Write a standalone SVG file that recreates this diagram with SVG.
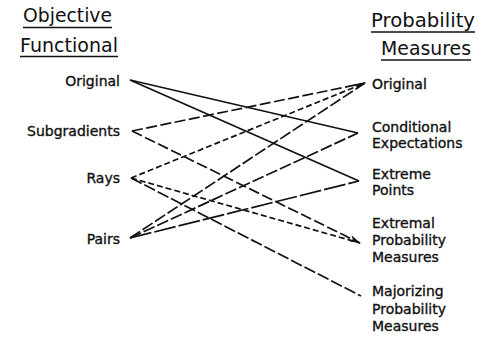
<svg xmlns="http://www.w3.org/2000/svg" width="478" height="337" viewBox="0 0 478 337">
<style>
text{font-family:"DejaVu Sans","Liberation Sans",sans-serif;fill:#111;}
.lbl{font-size:14px;stroke:#111;stroke-width:0.35;}
.hd{font-size:19.5px;}
.ul{stroke:#111;stroke-width:1.5;}
.c{fill:none;stroke:#111;stroke-width:1.7;}
.dl{stroke-dasharray:11 3.5;}
.ds{stroke-dasharray:6 3;}
.dm{stroke-dasharray:12 3;}
.dx{stroke-dasharray:22 3;}
</style>
<defs>
<marker id="arr" viewBox="0 0 12 8" refX="11" refY="4" markerWidth="12" markerHeight="8" markerUnits="userSpaceOnUse" orient="auto">
<path d="M0,0.8 L12,4 L0,7.2 L3,4 Z" fill="#111"/>
</marker>
</defs>
<g id="header-left">
<text class="hd" x="23" y="22" textLength="89" lengthAdjust="spacingAndGlyphs">Objective</text>
<line class="ul" x1="23" y1="27.5" x2="112" y2="27.5"/>
<text class="hd" x="20" y="52" textLength="98" lengthAdjust="spacingAndGlyphs">Functional</text>
<line class="ul" x1="20" y1="56.5" x2="118" y2="56.5"/>
</g>
<g id="header-right">
<text class="hd" x="371" y="27" textLength="104" lengthAdjust="spacingAndGlyphs">Probability</text>
<line class="ul" x1="371" y1="32" x2="475" y2="32"/>
<text class="hd" x="381" y="55" textLength="90" lengthAdjust="spacingAndGlyphs">Measures</text>
<line class="ul" x1="381" y1="60" x2="471" y2="60"/>
</g>
<g id="of-original"><text class="lbl" x="120" y="86" text-anchor="end">Original</text></g>
<g id="of-subgradients"><text class="lbl" x="120" y="136" text-anchor="end">Subgradients</text></g>
<g id="of-rays"><text class="lbl" x="120" y="183" text-anchor="end">Rays</text></g>
<g id="of-pairs"><text class="lbl" x="120" y="244" text-anchor="end">Pairs</text></g>
<g id="pm-original"><text class="lbl" x="372" y="89">Original</text></g>
<g id="pm-conditional"><text class="lbl" x="372" y="131.5">Conditional</text><text class="lbl" x="372" y="147.5">Expectations</text></g>
<g id="pm-extreme"><text class="lbl" x="372" y="178.5">Extreme</text><text class="lbl" x="372" y="194.5">Points</text></g>
<g id="pm-extremal"><text class="lbl" x="372" y="228">Extremal</text><text class="lbl" x="372" y="245">Probability</text><text class="lbl" x="372" y="262">Measures</text></g>
<g id="pm-majorizing"><text class="lbl" x="372" y="296">Majorizing</text><text class="lbl" x="372" y="313.5">Probability</text><text class="lbl" x="372" y="331">Measures</text></g>
<g id="connectors">
<path class="c" d="M130,80 L358,133"/>
<path class="c" d="M130,80 L359,181"/>
<path class="c dl" d="M132,131 L365,83"/>
<path class="c dl" d="M132,131 L360,243" marker-end="url(#arr)"/>
<path class="c ds" d="M131,178 L365,83" marker-end="url(#arr)"/>
<path class="c ds" d="M131,178 L360,243"/>
<path class="c dm" d="M131,178 L361,296"/>
<path class="c dm" d="M130,238 L365,83"/>
<path class="c dm" d="M130,238 L358,133"/>
<path class="c dx" d="M130,238 L359,181"/>
</g>
</svg>
